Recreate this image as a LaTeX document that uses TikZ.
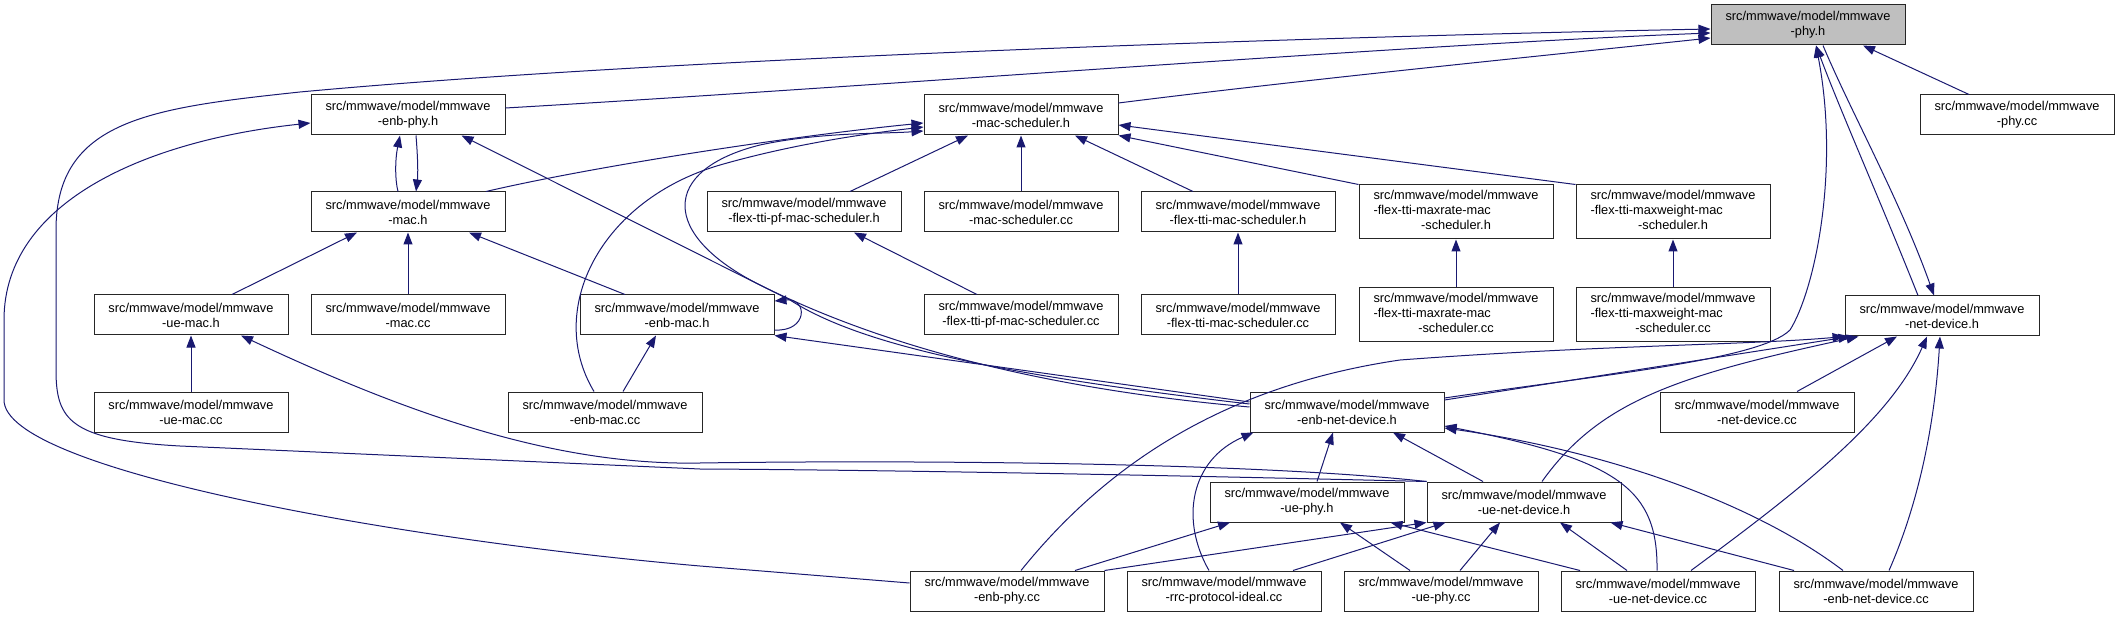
\documentclass[tikz,border=0pt]{standalone}
\usepackage{fontspec}
\setmainfont{Liberation Sans}
\usetikzlibrary{arrows.meta}

\definecolor{edgeblue}{RGB}{25,25,112}
\definecolor{rootgray}{RGB}{191,191,191}
\newcommand{\threeLines}[3]{\begin{tabular}{@{}l@{}}#1\\#2\\\multicolumn{1}{@{}c@{}}{#3}\end{tabular}}

\begin{document}
\begin{tikzpicture}[x=1pt,y=-1pt,
    srcfile/.style={draw=black!85,line width=1pt,fill=white,rectangle,minimum width=194pt,minimum height=40pt,inner sep=2pt,align=center,font=\fontsize{12.8}{15}\selectfont},
    tallfile/.style={srcfile,minimum height=54pt},
    rootfile/.style={srcfile,fill=rootgray},
    inc/.style={draw=edgeblue,line width=1pt,-{Triangle[length=12pt,width=9pt]}}]
            \useasboundingbox (0,0) rectangle (2119,617);

            % row 0 and 1
            \node[rootfile] (phyh) at (1808,25) {src/mmwave/model/mmwave\\-phy.h};
            \node[srcfile] (phycc) at (2017,115) {src/mmwave/model/mmwave\\-phy.cc};
            \node[srcfile] (enbphyh) at (408,115) {src/mmwave/model/mmwave\\-enb-phy.h};
            \node[srcfile] (macschedh) at (1021,115) {src/mmwave/model/mmwave\\-mac-scheduler.h};

            % row 2
            \node[srcfile] (mach) at (408,212) {src/mmwave/model/mmwave\\-mac.h};
            \node[srcfile] (pfh) at (804,212) {src/mmwave/model/mmwave\\-flex-tti-pf-mac-scheduler.h};
            \node[srcfile] (macschedcc) at (1021,212) {src/mmwave/model/mmwave\\-mac-scheduler.cc};
            \node[srcfile] (flexh) at (1238,212) {src/mmwave/model/mmwave\\-flex-tti-mac-scheduler.h};
            \node[tallfile] (maxrateh) at (1456,212) {\threeLines{src/mmwave/model/mmwave}{-flex-tti-maxrate-mac}{-scheduler.h}};
            \node[tallfile] (maxweighth) at (1673,212) {\threeLines{src/mmwave/model/mmwave}{-flex-tti-maxweight-mac}{-scheduler.h}};

            % row 3
            \node[srcfile] (uemach) at (191,315) {src/mmwave/model/mmwave\\-ue-mac.h};
            \node[srcfile] (maccc) at (408,315) {src/mmwave/model/mmwave\\-mac.cc};
            \node[srcfile] (enbmach) at (677,315) {src/mmwave/model/mmwave\\-enb-mac.h};
            \node[srcfile] (pfcc) at (1021,315) {src/mmwave/model/mmwave\\-flex-tti-pf-mac-scheduler.cc};
            \node[srcfile] (flexcc) at (1238,315) {src/mmwave/model/mmwave\\-flex-tti-mac-scheduler.cc};
            \node[tallfile] (maxratecc) at (1456,315) {\threeLines{src/mmwave/model/mmwave}{-flex-tti-maxrate-mac}{-scheduler.cc}};
            \node[tallfile] (maxweightcc) at (1673,315) {\threeLines{src/mmwave/model/mmwave}{-flex-tti-maxweight-mac}{-scheduler.cc}};
            \node[srcfile] (netdevh) at (1942,316) {src/mmwave/model/mmwave\\-net-device.h};

            % row 4 and 5
            \node[srcfile] (uemaccc) at (191,412) {src/mmwave/model/mmwave\\-ue-mac.cc};
            \node[srcfile] (enbmaccc) at (605,412) {src/mmwave/model/mmwave\\-enb-mac.cc};
            \node[srcfile] (enbnetdevh) at (1347,412) {src/mmwave/model/mmwave\\-enb-net-device.h};
            \node[srcfile] (netdevcc) at (1757,412) {src/mmwave/model/mmwave\\-net-device.cc};
            \node[srcfile] (uephyh) at (1307,502) {src/mmwave/model/mmwave\\-ue-phy.h};
            \node[srcfile] (uenetdevh) at (1524,502) {src/mmwave/model/mmwave\\-ue-net-device.h};

            % row 6
            \node[srcfile] (enbphycc) at (1007,591) {src/mmwave/model/mmwave\\-enb-phy.cc};
            \node[srcfile] (rrccc) at (1224,591) {src/mmwave/model/mmwave\\-rrc-protocol-ideal.cc};
            \node[srcfile] (uephycc) at (1441,591) {src/mmwave/model/mmwave\\-ue-phy.cc};
            \node[srcfile] (uenetdevcc) at (1658,591) {src/mmwave/model/mmwave\\-ue-net-device.cc};
            \node[srcfile] (enbnetdevcc) at (1876,591) {src/mmwave/model/mmwave\\-enb-net-device.cc};

            % into phy.h
            \draw[inc] ([xshift=-48pt]phycc.north) -- ([xshift=55pt]phyh.south);
            \draw[inc] ([yshift=7pt]enbphyh.east) .. controls (900,85) and (1400,45) .. ([yshift=-8pt]phyh.west);
            \draw[inc] ([yshift=12pt]macschedh.east) .. controls (1300,80) and (1550,55) .. ([yshift=-13pt]phyh.west);
            \draw[inc] (uenetdevh.north west) .. controls (1200,476) and (900,470) .. (700,469)
                -- (180,446) .. controls (70,440) and (56,420) .. (56,370) -- (56,230)
                .. controls (56,120) and (150,108) .. (300,92) .. controls (700,55) and (1400,35) .. ([yshift=-4pt]phyh.west);
            \draw[inc] ([xshift=-24pt]netdevh.north) .. controls (1880,200) and (1840,110) .. ([xshift=8pt]phyh.south);
            \draw[inc] ([xshift=15pt]phyh.south) .. controls (1850,110) and (1900,200) .. ([xshift=-8pt]netdevh.north);
            \draw[inc] ([yshift=14pt]enbnetdevh.east) .. controls (1600,375) and (1760,360) .. (1790,330)
                .. controls (1815,290) and (1840,170) .. ([xshift=8pt]phyh.south);

            % into enb-phy.h, mac.h
            \draw[inc] ([xshift=-10pt]mach.north) .. controls (395,180) and (395,160) .. ([xshift=-8pt]enbphyh.south);
            \draw[inc] ([xshift=8pt]enbphyh.south) .. controls (418,160) and (418,175) .. ([xshift=8pt]mach.north);
            \draw[inc] ([yshift=8pt]enbnetdevh.west) .. controls (1000,375) and (860,345) .. (790,300) -- ([xshift=-44pt]enbphyh.south east);
            \draw[inc] ([yshift=8pt]enbphycc.west) -- (700,566) .. controls (400,540) and (4,470) .. (4,400)
                -- (4,320) .. controls (4,200) and (150,140) .. ([yshift=-8pt]enbphyh.west);
            \draw[inc] ([xshift=41pt]uemach.north) -- ([xshift=-51pt]mach.south);
            \draw[inc] (maccc) -- (mach);
            \draw[inc] ([xshift=-52pt]enbmach.north) -- ([xshift=61pt]mach.south);

            % into mac-scheduler.h
            \draw[inc] ([xshift=78pt]mach.north) .. controls (600,165) and (800,135) .. ([yshift=-8pt]macschedh.west);
            \draw[inc] ([xshift=-11pt]enbmaccc.north) .. controls (545,310) and (600,200) .. (720,165)
                .. controls (800,142) and (880,132) .. ([yshift=-12pt]macschedh.west);
            \draw[inc] ([yshift=5pt]enbnetdevh.west) .. controls (1000,385) and (850,330) .. (760,285)
                .. controls (660,235) and (660,170) .. (760,145) .. controls (820,132) and (880,134) .. ([yshift=-16pt]macschedh.west);
            \draw[inc] ([xshift=46pt]pfh.north) -- ([xshift=-53pt]macschedh.south);
            \draw[inc] (macschedcc) -- (macschedh);
            \draw[inc] ([xshift=-45pt]flexh.north) -- ([xshift=54pt]macschedh.south);
            \draw[inc] (maxrateh.north west) -- (macschedh.south east);
            \draw[inc] (maxweighth.north west) -- ([yshift=-10pt]macschedh.east);

            % scheduler sources
            \draw[inc] ([xshift=-44pt]pfcc.north) -- ([xshift=50pt]pfh.south);
            \draw[inc] (flexcc) -- (flexh);
            \draw[inc] (maxratecc) -- (maxrateh);
            \draw[inc] (maxweightcc) -- (maxweighth);

            % mac headers
            \draw[inc] (uemaccc) -- (uemach);
            \draw[inc] ([xshift=18pt]enbmaccc.north) -- ([xshift=-21pt]enbmach.south);
            \draw[inc] ([yshift=-15pt]enbmach.east) .. controls (808,332) and (808,298) .. ([yshift=14pt]enbmach.east);
            \draw[inc] ([yshift=10pt]enbnetdevh.west) -- (enbmach.south east);
            \draw[inc] (uenetdevh.north west) .. controls (1250,462) and (900,460) .. (700,463)
                .. controls (550,466) and (400,410) .. ([xshift=50pt]uemach.south);

            % into net-device.h
            \draw[inc] ([xshift=14pt]enbphycc.north) .. controls (1110,460) and (1230,385) .. (1400,360)
                .. controls (1600,345) and (1750,345) .. (netdevh.south west);
            \draw[inc] ([yshift=12pt]enbnetdevh.east) -- ([xshift=6pt]netdevh.south west);
            \draw[inc] ([xshift=18pt]uenetdevh.north) .. controls (1600,400) and (1680,375) .. ([xshift=14pt]netdevh.south west);
            \draw[inc] ([xshift=40pt]netdevcc.north) -- ([xshift=-45pt]netdevh.south);
            \draw[inc] ([xshift=33pt]uenetdevcc.north) .. controls (1800,490) and (1890,420) .. ([xshift=-15pt]netdevh.south);
            \draw[inc] ([xshift=13pt]enbnetdevcc.north) .. controls (1920,500) and (1935,420) .. ([xshift=-2pt]netdevh.south);

            % into enb-net-device.h
            \draw[inc] ([xshift=-15pt]rrccc.north) .. controls (1180,520) and (1190,460) .. ([xshift=4pt]enbnetdevh.south west);
            \draw[inc] ([xshift=10pt]uephyh.north) -- ([xshift=-14pt]enbnetdevh.south);
            \draw[inc] ([xshift=-41pt]uenetdevh.north) -- ([xshift=46pt]enbnetdevh.south);
            \draw[inc] ([xshift=-1pt]uenetdevcc.north) .. controls (1658,490) and (1620,460) .. ([yshift=-14pt]enbnetdevh.east);
            \draw[inc] ([xshift=-33pt]enbnetdevcc.north) .. controls (1750,500) and (1600,450) .. ([yshift=-16pt]enbnetdevh.east);

            % into ue-phy.h and ue-net-device.h
            \draw[inc] ([xshift=68pt]enbphycc.north) -- ([xshift=-77pt]uephyh.south);
            \draw[inc] ([xshift=-31pt]uephycc.north) -- ([xshift=33pt]uephyh.south);
            \draw[inc] ([xshift=-78pt]uenetdevcc.north) -- ([xshift=-14pt]uephyh.south east);
            \draw[inc] (enbphycc.north east) -- (uenetdevh.south west);
            \draw[inc] ([xshift=69pt]rrccc.north) -- ([xshift=19pt]uenetdevh.south west);
            \draw[inc] ([xshift=19pt]uephycc.north) -- ([xshift=-24pt]uenetdevh.south);
            \draw[inc] ([xshift=-31pt]uenetdevcc.north) -- ([xshift=36pt]uenetdevh.south);
            \draw[inc] ([xshift=-82pt]enbnetdevcc.north) -- ([xshift=-11pt]uenetdevh.south east);
        \end{tikzpicture}
\end{document}
